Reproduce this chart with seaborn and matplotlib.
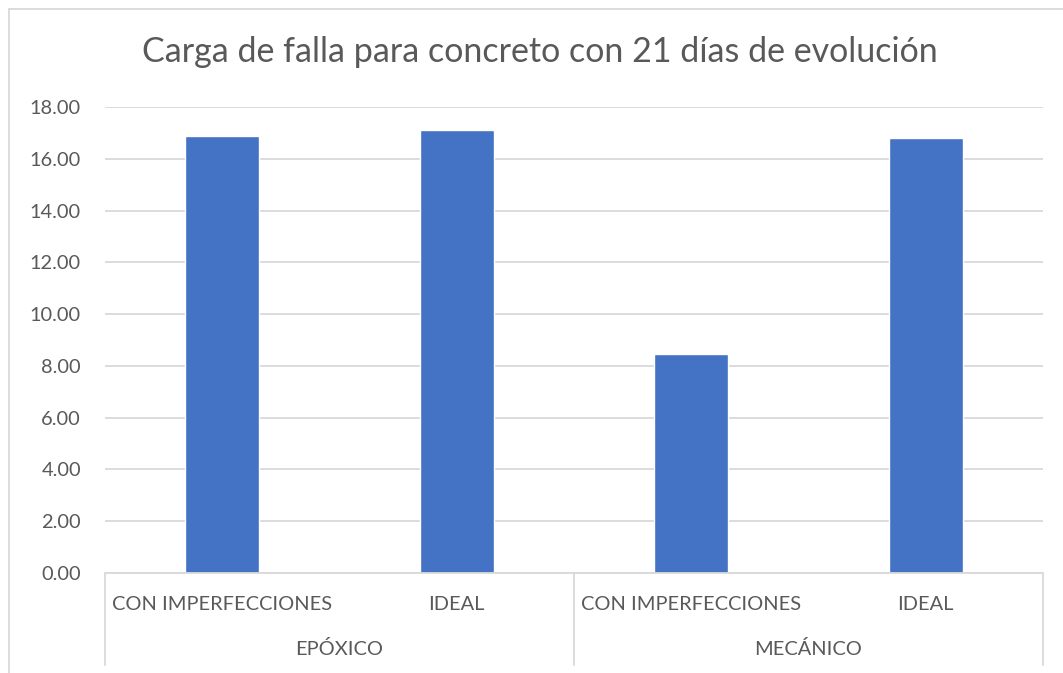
import matplotlib
matplotlib.use("Agg")
import matplotlib.pyplot as plt
from matplotlib.lines import Line2D
import seaborn as sns
import pandas as pd

# Chart data
groups = ["EPÓXICO", "MECÁNICO"]
conditions = ["CON IMPERFECCIONES", "IDEAL"]
loads = [16.88, 17.13, 8.44, 16.80]   # EPÓXICO x2, MECÁNICO x2
y_ticks = [0, 2, 4, 6, 8, 10, 12, 14, 16, 18]

title = "Carga de falla para concreto con 21 días de evolución"

BAR = "#4472C4"
GRID = "#D9D9D9"
TEXT = "#595959"
FS = 14.4

sns.set_theme(style="white")
plt.rcParams["font.family"] = ["Lato", "DejaVu Sans"]

rows = []
for gi, g in enumerate(groups):
    for ci, c in enumerate(conditions):
        rows.append({"key": f"{g}|{c}", "grupo": g, "condicion": c,
                     "carga": loads[gi * len(conditions) + ci]})
df = pd.DataFrame(rows)

W, H = 1063, 673
fig = plt.figure(figsize=(W / 100, H / 100), dpi=100)
x0, x1 = 105, 1043
y_top, y_bot = 107.3, 572.6
ax = fig.add_axes([x0 / W, (H - y_bot) / H, (x1 - x0) / W, (y_bot - y_top) / H])

sns.barplot(data=df, x="key", y="carga", order=df["key"].tolist(),
            color=BAR, saturation=1, width=0.315, ax=ax, zorder=3)

ax.set_xlim(-0.5, len(df) - 0.5)
ax.set_ylim(0, 18)
ax.set_yticks(y_ticks)
ax.set_yticklabels([f"{v:.2f}" for v in y_ticks], color=TEXT, fontsize=FS)
ax.tick_params(axis="y", length=0, pad=17.3)
ax.set_xticks([])
ax.set_xlabel("")
ax.set_ylabel("")
for s in ax.spines.values():
    s.set_visible(False)
ax.yaxis.grid(True, color=GRID, linewidth=1.3, zorder=0)
ax.set_axisbelow(True)

tr = ax.get_xaxis_transform()
span = y_bot - y_top
def ay(py):
    return -(py - y_bot) / span

# Category axis line and group separators
ax.plot([-0.5, len(df) - 0.5], [0, 0], color=GRID, lw=1.3, transform=tr, clip_on=False, zorder=4)
n_c = len(conditions)
for b in range(len(groups) + 1):
    xb = -0.5 + b * n_c
    ax.plot([xb, xb], [0, ay(665)], color=GRID, lw=1.3, transform=tr, clip_on=False)

# Two-level category labels
for i, r in df.iterrows():
    ax.text(i, ay(604), r["condicion"], transform=tr, ha="center", va="center",
            color=TEXT, fontsize=FS)
for gi, g in enumerate(groups):
    xc = -0.5 + gi * n_c + n_c / 2
    ax.text(xc, ay(649), g, transform=tr, ha="center", va="center",
            color=TEXT, fontsize=FS)

fig.text(540 / W, 1 - 52 / H, title, ha="center", va="center", color=TEXT, fontsize=24.5)

# Chart area border
fig.add_artist(Line2D([9 / W, 1.01], [1 - 8.5 / H, 1 - 8.5 / H], color=GRID, lw=1.3, transform=fig.transFigure))
fig.add_artist(Line2D([9 / W, 9 / W], [1 - 8.5 / H, -0.01], color=GRID, lw=1.3, transform=fig.transFigure))

fig.savefig("out.png", dpi=100)
